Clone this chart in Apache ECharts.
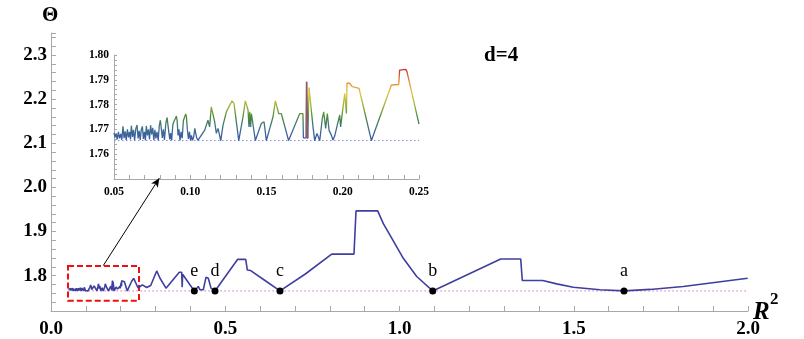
<!DOCTYPE html>
<html>
<head>
<meta charset="utf-8">
<script src="https://cdn.jsdelivr.net/npm/echarts@6/dist/echarts.min.js"></script>
<style>
  html, body { margin: 0; padding: 0; background: #fff; }
  #chart { width: 804px; height: 339px; }
</style>
</head>
<body>
<div id="chart"></div>
<script>
// inset curve (R^2, Theta), 0.05 .. 0.25
const insetPts = [
  [0.0500,1.7686],[0.0507,1.7668],[0.0514,1.7684],[0.0521,1.7660],[0.0529,1.7690],[0.0536,1.7664],[0.0544,1.7682],[0.0551,1.7658],
  [0.0559,1.7712],[0.0566,1.7665],[0.0573,1.7692],[0.0580,1.7658],[0.0588,1.7700],[0.0595,1.7668],[0.0602,1.7690],[0.0608,1.7660],
  [0.0614,1.7715],[0.0621,1.7670],[0.0628,1.7698],[0.0635,1.7657],[0.0643,1.7703],[0.0651,1.7718],[0.0658,1.7664],[0.0665,1.7694],
  [0.0672,1.7658],[0.0679,1.7700],[0.0686,1.7712],[0.0693,1.7662],[0.0700,1.7690],[0.0706,1.7656],[0.0712,1.7714],[0.0719,1.7676],
  [0.0726,1.7700],[0.0733,1.7660],[0.0740,1.7717],[0.0747,1.7680],[0.0754,1.7706],[0.0761,1.7657],[0.0768,1.7698],[0.0775,1.7664],
  [0.0782,1.7690],[0.0790,1.7656],[0.0797,1.7715],[0.0804,1.7737],[0.0810,1.7732],[0.0817,1.7666],[0.0824,1.7700],[0.0831,1.7658],
  [0.0840,1.7725],[0.0848,1.7748],[0.0854,1.7740],[0.0860,1.7686],[0.0866,1.7660],[0.0872,1.7685],[0.0878,1.7656],[0.0886,1.7720],
  [0.0895,1.7735],[0.0903,1.7745],[0.0909,1.7754],[0.0914,1.7735],[0.0920,1.7676],[0.0926,1.7700],[0.0933,1.7656],[0.0940,1.7690],
  [0.0947,1.7664],[0.0955,1.7735],[0.0962,1.7748],[0.0970,1.7762],[0.0975,1.7752],[0.0981,1.7700],[0.0988,1.7662],[0.0995,1.7690],
  [0.1002,1.7656],[0.1008,1.7676],[0.1015,1.7656],[0.1022,1.7668],[0.1030,1.7704],[0.1036,1.7700],[0.1042,1.7666],[0.1050,1.7656],
  [0.1056,1.7664],[0.1062,1.7655],[0.1095,1.7697],[0.1116,1.7737],[0.1127,1.7710],[0.1138,1.7791],[0.1160,1.7731],[0.1171,1.7684],
  [0.1182,1.7704],[0.1200,1.7655],[0.1215,1.7717],[0.1237,1.7771],[0.1259,1.7798],[0.1274,1.7815],[0.1287,1.7805],[0.1318,1.7655],
  [0.1346,1.7751],[0.1361,1.7815],[0.1374,1.7811],[0.1379,1.7778],[0.1385,1.7710],[0.1390,1.7771],[0.1396,1.7710],[0.1401,1.7764],
  [0.1427,1.7655],[0.1466,1.7724],[0.1484,1.7731],[0.1499,1.7655],[0.1543,1.7751],[0.1558,1.7815],[0.1571,1.7811],[0.1580,1.7764],
  [0.1597,1.7764],[0.1645,1.7655],[0.1718,1.7764],[0.1739,1.7764],[0.1742,1.7666],[0.1761,1.7666],[0.1763,1.7892],[0.1770,1.7663],
  [0.1779,1.7869],[0.1805,1.7710],[0.1816,1.7655],[0.1831,1.7684],[0.1849,1.7655],[0.1866,1.7744],[0.1875,1.7771],[0.1888,1.7704],
  [0.1899,1.7764],[0.1910,1.7697],[0.1925,1.7677],[0.1936,1.7657],[0.1947,1.7673],[0.1980,1.7758],[0.1986,1.7710],[0.2013,1.7845],
  [0.2024,1.7764],[0.2028,1.7886],[0.2035,1.7892],[0.2045,1.7886],[0.2056,1.7892],[0.2063,1.7872],[0.2074,1.7865],[0.2107,1.7865],
  [0.2188,1.7655],[0.2319,1.7879],[0.2367,1.7881],[0.2373,1.7939],[0.2413,1.7942],[0.2421,1.7933],[0.2500,1.7721]
];

// the dark spike near 0.176 in the inset
const spikePts = [[0.1761,1.7666],[0.1763,1.7892],[0.1770,1.7663]];

// rest of the main curve, 0.25 .. 2
const restPts = [
  [0.2554,1.7718],[0.2620,1.7792],[0.2746,1.7734],[0.2861,1.7779],[0.3033,1.8108],[0.3128,1.7943],[0.3300,1.7718],
  [0.3681,1.8078],[0.3750,1.8078],[0.3765,1.7741],[0.3776,1.8033],[0.4112,1.7655],[0.4227,1.7756],[0.4275,1.7680],
  [0.4370,1.7680],[0.4448,1.7966],[0.4514,1.7943],[0.4591,1.7718],[0.4706,1.7655],[0.5357,1.8371],[0.5587,1.8371],
  [0.5633,1.8130],[0.5730,1.8117],[0.6140,1.7891],[0.6571,1.7655],[0.7288,1.8033],[0.8055,1.8490],[0.8694,1.8490],
  [0.8752,1.9468],[0.9374,1.9468],[0.9536,1.9180],[0.9727,1.8918],[1.0109,1.8394],[1.0494,1.7982],[1.0953,1.7655],
  [1.2904,1.8378],[1.3478,1.8378],[1.3524,1.7891],[1.4109,1.7891],[1.4510,1.7815],[1.4987,1.7740],[1.5750,1.7680],
  [1.6442,1.7655],[1.7188,1.7689],[1.8143,1.7756],[1.9991,1.7943]
];

const thetaMin = 1.7655;
const refX = [0.05, 2.0];
const insetRefX = [0.05, 0.25];

const markNames = ['a', 'b', 'c', 'd', 'e'];
const markX = [1.6442, 1.0953, 0.6571, 0.4706, 0.4112];

// zoom box and arrow, in data units of the main plot
const boxX = [0.0488, 0.2525];
const boxY = [1.7432, 1.8220];
const arrowFrom = [0.150, 1.8229];
const arrowTo = [0.3108, 2.0211];

const serif = 'Liberation Serif';
const axisGray = '#a8a8a8';

const chart = echarts.init(document.getElementById('chart'));

const bigLabel = { fontFamily: serif, fontWeight: 'bold', fontSize: 19, color: '#000' };
const smallLabel = { fontFamily: serif, fontWeight: 'bold', fontSize: 11.5, color: '#000' };

chart.setOption({
  animation: false,
  grid: [
    { left: 51, right: 56, top: 33, bottom: 26 },
    { left: 114, top: 55, width: 305, height: 124, backgroundColor: '#fff', show: true, borderWidth: 0 }
  ],
  xAxis: [
    {
      type: 'value', gridIndex: 0, min: 0, max: 2, interval: 0.1,
      axisLine: { lineStyle: { color: axisGray } },
      axisTick: { inside: true, length: 5, lineStyle: { color: axisGray } },
      splitLine: { show: false },
      axisLabel: Object.assign({}, bigLabel, {
        margin: 9, hideOverlap: false,
        formatter: v => (Math.round(v * 10) % 5 === 0 ? v.toFixed(1) : '')
      })
    },
    {
      type: 'value', gridIndex: 1, min: 0.05, max: 0.25, interval: 0.01,
      axisLine: { lineStyle: { color: axisGray } },
      axisTick: { inside: true, length: 4, lineStyle: { color: axisGray } },
      splitLine: { show: false },
      axisLabel: Object.assign({}, smallLabel, {
        margin: 7, hideOverlap: false,
        formatter: v => (Math.round(v * 100) % 5 === 0 ? v.toFixed(2) : '')
      })
    }
  ],
  yAxis: [
    {
      type: 'value', gridIndex: 0, min: 1.72, max: 2.35, interval: 0.02,
      axisLine: { show: true, lineStyle: { color: axisGray } },
      axisTick: { show: true, inside: true, length: 5, lineStyle: { color: axisGray } },
      splitLine: { show: false },
      axisLabel: Object.assign({}, bigLabel, {
        margin: 4, hideOverlap: false,
        formatter: v => (Math.round(v * 100) % 10 === 0 && v > 1.75 && v < 2.34 ? v.toFixed(1) : '')
      })
    },
    {
      type: 'value', gridIndex: 1, min: 1.75, max: 1.80, interval: 0.002,
      axisLine: { show: true, lineStyle: { color: axisGray } },
      axisTick: { show: true, inside: true, length: 3, lineStyle: { color: axisGray } },
      splitLine: { show: false },
      axisLabel: Object.assign({}, smallLabel, {
        margin: 5, hideOverlap: false,
        formatter: v => (Math.round(v * 1000) % 10 === 0 && v > 1.755 ? v.toFixed(2) : '')
      })
    }
  ],
  visualMap: {
    show: false, type: 'continuous', seriesIndex: 3, dimension: 1,
    min: thetaMin, max: 1.794,
    inRange: { color: ['#3b56a6', '#3c6f8e', '#4b8a3c', '#9eb43a', '#e0c63e', '#e88c3a', '#cc3330'] }
  },
  series: [
    {
      type: 'line', xAxisIndex: 0, yAxisIndex: 0,
      data: insetPts.concat(restPts),
      showSymbol: false, silent: true,
      lineStyle: { color: '#3f3f9f', width: 1.6 },
      markArea: {
        silent: true,
        itemStyle: { color: 'rgba(0,0,0,0)', borderColor: '#ee1111', borderWidth: 2, borderType: [6, 3] },
        data: [[{ coord: [boxX[0], boxY[1]] }, { coord: [boxX[1], boxY[0]] }]]
      },
      markLine: {
        silent: true, symbol: ['none', 'arrow'], symbolSize: [6, 9],
        label: { show: false },
        lineStyle: { color: '#000', width: 1, type: 'solid' },
        data: [[{ coord: arrowFrom }, { coord: arrowTo }]]
      }
    },
    {
      type: 'line', xAxisIndex: 0, yAxisIndex: 0,
      data: refX.map(x => [x, thetaMin]),
      showSymbol: false, silent: true, z: 1,
      lineStyle: { color: '#d070b8', width: 1, type: [1.5, 2.5] }
    },
    {
      type: 'scatter', xAxisIndex: 0, yAxisIndex: 0,
      data: markNames.map((n, i) => ({ name: n, value: [markX[i], thetaMin] })),
      symbolSize: 7, silent: true, z: 5,
      itemStyle: { color: '#000', opacity: 1 },
      label: {
        show: true, position: 'top', distance: 7, formatter: '{b}',
        fontFamily: serif, fontSize: 18, color: '#000'
      }
    },
    {
      type: 'line', xAxisIndex: 1, yAxisIndex: 1,
      data: insetPts,
      showSymbol: false, silent: true,
      lineStyle: { width: 1.3 }
    },
    {
      type: 'line', xAxisIndex: 1, yAxisIndex: 1,
      data: spikePts,
      showSymbol: false, silent: true,
      lineStyle: { color: '#8a5c6c', width: 1.6 }
    },
    {
      type: 'line', xAxisIndex: 1, yAxisIndex: 1,
      data: insetRefX.map(x => [x, thetaMin]),
      showSymbol: false, silent: true, z: 1,
      lineStyle: { color: '#7f8fd0', width: 1, type: [1.5, 2.5] }
    }
  ],
  graphic: [
    { type: 'text', left: 42, top: 5, style: { text: 'Θ', fontFamily: serif, fontWeight: 'bold', fontSize: 21, fill: '#000' } },
    { type: 'text', left: 484, top: 45, style: { text: 'd=4', fontFamily: serif, fontWeight: 'bold', fontSize: 21, fill: '#000' } },
    { type: 'text', left: 753, top: 300, style: { text: 'R', fontFamily: serif, fontWeight: 'bold', fontStyle: 'italic', fontSize: 25, fill: '#000' } },
    { type: 'text', left: 770, top: 291, style: { text: '2', fontFamily: serif, fontWeight: 'bold', fontSize: 17, fill: '#000' } }
  ]
});

window.onresize = () => chart.resize();
</script>
</body>
</html>
